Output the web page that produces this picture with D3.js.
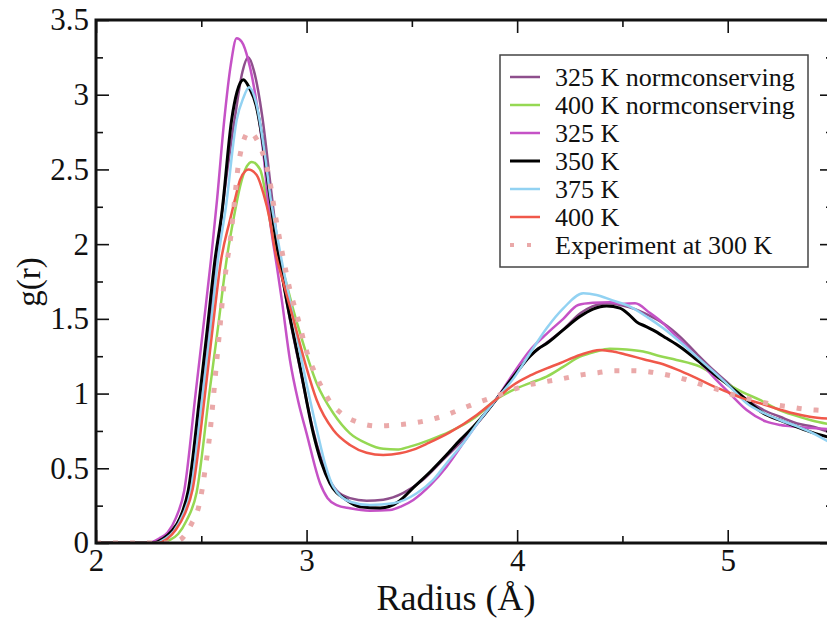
<!DOCTYPE html>
<html><head><meta charset="utf-8">
<script src="https://cdn.jsdelivr.net/npm/d3@7"></script>
<style>body{margin:0;background:#fff}svg{display:block}</style>
</head><body>
<svg id="c" width="827" height="620"></svg>
<script>
// ---- data ----
const xTicks = [2, 3, 4, 5];
const xMinorTicks = [2.5, 3.5, 4.5, 5.5];
const yTicks = [0, 0.5, 1, 1.5, 2, 2.5, 3, 3.5];
const yMinorTicks = [0.25, 0.75, 1.25, 1.75, 2.25, 2.75, 3.25];
const seriesNames = ["325 K normconserving", "400 K normconserving", "325 K", "350 K", "375 K", "400 K", "Experiment at 300 K"];
const seriesColors = ["#8e4f8c", "#95d853", "#c552c6", "#000000", "#92d2f2", "#f0584a", "#eaa9a9"];

const nc325 = [[2.0,0],[2.28,0],[2.33,0.03],[2.37,0.08],[2.40,0.17],[2.445,0.36],[2.50,1.0],[2.572,1.894],[2.61,2.35],[2.66,2.85],[2.695,3.15],[2.723,3.25],[2.75,3.16],[2.79,2.85],[2.83,2.38],[2.87,1.92],[2.91,1.58],[2.97,1.16],[3.03,0.76],[3.10,0.45],[3.143,0.35],[3.206,0.30],[3.285,0.283],[3.364,0.29],[3.46,0.335],[3.55,0.42],[3.65,0.56],[3.75,0.70],[3.84,0.85],[3.90,0.96],[3.98,1.11],[4.06,1.25],[4.14,1.34],[4.22,1.43],[4.30,1.537],[4.36,1.585],[4.425,1.604],[4.50,1.59],[4.56,1.565],[4.63,1.52],[4.694,1.47],[4.773,1.381],[4.85,1.27],[4.931,1.158],[5.01,1.06],[5.09,0.96],[5.17,0.89],[5.248,0.845],[5.33,0.80],[5.406,0.778],[5.50,0.73]];
const nc400 = [[2.0,0],[2.30,0],[2.35,0.02],[2.39,0.06],[2.43,0.15],[2.478,0.34],[2.538,1.0],[2.58,1.45],[2.62,1.894],[2.66,2.22],[2.684,2.385],[2.716,2.52],[2.74,2.55],[2.779,2.50],[2.81,2.30],[2.834,2.09],[2.86,1.97],[2.90,1.76],[2.937,1.56],[2.969,1.404],[3.048,1.069],[3.127,0.868],[3.206,0.734],[3.285,0.667],[3.364,0.63],[3.43,0.625],[3.49,0.645],[3.586,0.69],[3.68,0.745],[3.80,0.84],[3.90,0.96],[3.982,1.024],[4.06,1.07],[4.14,1.113],[4.22,1.18],[4.298,1.247],[4.37,1.28],[4.44,1.30],[4.52,1.295],[4.599,1.281],[4.68,1.25],[4.757,1.225],[4.868,1.18],[4.994,1.069],[5.07,1.01],[5.153,0.957],[5.23,0.90],[5.311,0.857],[5.40,0.82],[5.50,0.79]];
const k325 = [[2.0,0],[2.25,0],[2.30,0.03],[2.34,0.07],[2.38,0.17],[2.419,0.35],[2.473,1.0],[2.51,1.45],[2.546,1.894],[2.575,2.30],[2.609,2.83],[2.64,3.2],[2.668,3.378],[2.692,3.355],[2.723,3.233],[2.763,2.943],[2.795,2.608],[2.826,2.162],[2.858,1.86],[2.882,1.63],[2.921,1.225],[2.96,0.95],[3.0,0.734],[3.064,0.40],[3.10,0.30],[3.143,0.254],[3.206,0.232],[3.301,0.216],[3.396,0.221],[3.45,0.245],[3.507,0.288],[3.59,0.39],[3.665,0.511],[3.75,0.68],[3.823,0.823],[3.90,0.96],[3.982,1.135],[4.061,1.29],[4.14,1.40],[4.219,1.50],[4.29,1.593],[4.36,1.607],[4.44,1.611],[4.50,1.60],[4.56,1.604],[4.63,1.54],[4.694,1.47],[4.75,1.39],[4.805,1.314],[4.87,1.21],[4.931,1.113],[5.01,1.0],[5.09,0.89],[5.184,0.812],[5.25,0.79],[5.327,0.778],[5.40,0.77],[5.50,0.76]];
const k350 = [[2.0,0],[2.27,0],[2.32,0.03],[2.36,0.08],[2.40,0.17],[2.438,0.35],[2.494,1.0],[2.53,1.45],[2.565,1.894],[2.597,2.20],[2.644,2.83],[2.67,3.02],[2.70,3.10],[2.73,3.04],[2.76,2.93],[2.79,2.70],[2.82,2.38],[2.855,2.02],[2.88,1.82],[2.905,1.627],[2.969,1.18],[3.032,0.734],[3.07,0.54],[3.111,0.40],[3.19,0.288],[3.253,0.243],[3.35,0.235],[3.44,0.28],[3.507,0.37],[3.59,0.48],[3.665,0.59],[3.73,0.69],[3.792,0.778],[3.85,0.87],[3.90,0.96],[3.982,1.113],[4.061,1.25],[4.10,1.30],[4.14,1.335],[4.219,1.426],[4.298,1.515],[4.36,1.565],[4.425,1.586],[4.488,1.572],[4.53,1.53],[4.567,1.48],[4.61,1.45],[4.646,1.425],[4.71,1.37],[4.773,1.314],[4.85,1.23],[4.931,1.136],[5.01,1.05],[5.09,0.957],[5.169,0.868],[5.25,0.82],[5.327,0.778],[5.40,0.74],[5.50,0.70]];
const k375 = [[2.0,0],[2.28,0],[2.33,0.03],[2.37,0.08],[2.41,0.18],[2.45,0.35],[2.507,1.0],[2.545,1.45],[2.579,1.894],[2.617,2.25],[2.668,2.83],[2.70,2.98],[2.727,3.05],[2.76,2.95],[2.80,2.62],[2.83,2.30],[2.861,2.05],[2.89,1.83],[2.92,1.627],[2.98,1.20],[3.05,0.75],[3.09,0.52],[3.127,0.377],[3.206,0.276],[3.301,0.254],[3.412,0.266],[3.523,0.333],[3.60,0.42],[3.665,0.534],[3.75,0.68],[3.823,0.823],[3.90,0.96],[3.982,1.10],[4.061,1.27],[4.14,1.437],[4.219,1.57],[4.314,1.671],[4.377,1.66],[4.45,1.625],[4.536,1.582],[4.62,1.51],[4.694,1.437],[4.77,1.35],[4.852,1.247],[4.93,1.15],[5.01,1.046],[5.09,0.935],[5.17,0.87],[5.248,0.823],[5.33,0.78],[5.406,0.734],[5.50,0.66]];
const k400 = [[2.0,0],[2.29,0],[2.34,0.03],[2.38,0.09],[2.42,0.19],[2.459,0.36],[2.518,1.0],[2.555,1.45],[2.594,1.894],[2.636,2.16],[2.66,2.30],[2.684,2.43],[2.71,2.49],[2.723,2.50],[2.763,2.463],[2.795,2.34],[2.826,2.16],[2.85,1.96],[2.89,1.74],[2.937,1.50],[2.969,1.33],[3.0,1.17],[3.048,0.957],[3.127,0.756],[3.206,0.656],[3.285,0.604],[3.364,0.589],[3.443,0.60],[3.507,0.625],[3.58,0.67],[3.68,0.74],[3.808,0.857],[3.90,0.96],[3.982,1.058],[4.06,1.12],[4.14,1.169],[4.203,1.203],[4.298,1.258],[4.393,1.292],[4.46,1.28],[4.52,1.26],[4.60,1.23],[4.678,1.203],[4.76,1.16],[4.836,1.113],[4.915,1.06],[4.994,1.013],[5.07,0.97],[5.153,0.935],[5.23,0.90],[5.311,0.868],[5.39,0.845],[5.50,0.83]];
const exp300 = [[2.0,0],[2.34,0],[2.38,0.01],[2.415,0.04],[2.454,0.13],[2.489,0.25],[2.505,0.366],[2.518,0.49],[2.541,0.734],[2.557,0.968],[2.573,1.213],[2.589,1.448],[2.605,1.693],[2.62,1.86],[2.64,2.05],[2.655,2.25],[2.676,2.53],[2.692,2.646],[2.727,2.753],[2.774,2.67],[2.802,2.563],[2.823,2.44],[2.85,2.207],[2.882,1.961],[2.92,1.70],[2.961,1.493],[3.003,1.27],[3.035,1.153],[3.072,1.042],[3.111,0.946],[3.175,0.857],[3.25,0.805],[3.333,0.783],[3.415,0.788],[3.499,0.801],[3.581,0.823],[3.66,0.855],[3.74,0.90],[3.82,0.944],[3.899,0.982],[3.975,1.024],[4.054,1.058],[4.137,1.08],[4.216,1.10],[4.30,1.124],[4.385,1.14],[4.464,1.153],[4.548,1.153],[4.63,1.145],[4.714,1.124],[4.797,1.096],[4.88,1.058],[4.96,1.024],[5.042,0.984],[5.121,0.957],[5.204,0.93],[5.287,0.912],[5.37,0.895],[5.454,0.886],[5.50,0.88]];
const seriesData = [nc325, nc400, k325, k350, k375, k400, exp300];

// ---- layout ----
const L = 96, T = 20, B = 543, R = 833;
const svg = d3.select("#c");
const x = d3.scaleLinear().domain([2, 5.5]).range([L, R]);
const y = d3.scaleLinear().domain([0, 3.5]).range([B, T]);
const font = "Liberation Serif";

svg.append("defs").append("clipPath").attr("id", "clip")
  .append("rect").attr("x", L).attr("y", T).attr("width", R - L).attr("height", B - T);

const line = d3.line().x(d => x(d[0])).y(d => y(d[1])).curve(d3.curveMonotoneX);
const plot = svg.append("g").attr("clip-path", "url(#clip)");
seriesData.forEach((s, i) => {
  const isExp = i === 6;
  plot.append("path").datum(s).attr("d", line)
    .attr("fill", "none")
    .attr("stroke", seriesColors[i])
    .attr("stroke-width", isExp ? 5 : (i === 3 ? 3 : 2.5))
    .attr("stroke-dasharray", isExp ? "5,12" : null)
    .attr("stroke-linejoin", "round");
});

// axes
function styleAxis(g) {
  g.select(".domain").remove();
  g.selectAll("line").attr("stroke", "#111").attr("stroke-width", 1.6);
  g.selectAll("text").style("font-family", font).style("font-size", "31px").attr("fill", "#111");
}
svg.append("g").attr("transform", `translate(0,${B})`)
  .call(d3.axisBottom(x).tickValues(xTicks).tickSize(-13).tickPadding(6).tickFormat(d3.format("d"))).call(styleAxis);
svg.append("g").attr("transform", `translate(0,${B})`)
  .call(d3.axisBottom(x).tickValues(xMinorTicks).tickSize(-7).tickFormat("")).call(styleAxis);
svg.append("g").attr("transform", `translate(0,${T})`)
  .call(d3.axisTop(x).tickValues(xTicks).tickSize(-13).tickFormat("")).call(styleAxis);
svg.append("g").attr("transform", `translate(0,${T})`)
  .call(d3.axisTop(x).tickValues(xMinorTicks).tickSize(-7).tickFormat("")).call(styleAxis);
svg.append("g").attr("transform", `translate(${L},0)`)
  .call(d3.axisLeft(y).tickValues(yTicks).tickSize(-13).tickPadding(7).tickFormat(d => d3.format("")(d))).call(styleAxis);
svg.append("g").attr("transform", `translate(${L},0)`)
  .call(d3.axisLeft(y).tickValues(yMinorTicks).tickSize(-7).tickFormat("")).call(styleAxis);
svg.append("g").attr("transform", `translate(${R},0)`)
  .call(d3.axisRight(y).tickValues(yTicks).tickSize(-13).tickFormat("")).call(styleAxis);
svg.append("g").attr("transform", `translate(${R},0)`)
  .call(d3.axisRight(y).tickValues(yMinorTicks).tickSize(-7).tickFormat("")).call(styleAxis);

// frame
svg.append("rect").attr("x", L).attr("y", T).attr("width", R - L).attr("height", B - T)
  .attr("fill", "none").attr("stroke", "#111").attr("stroke-width", 3);

// axis titles
svg.append("text").attr("x", 456).attr("y", 610).attr("text-anchor", "middle")
  .style("font-family", font).style("font-size", "36px").attr("fill", "#111").text("Radius (Å)");
svg.append("text").attr("transform", "translate(40,282) rotate(-90)").attr("text-anchor", "middle")
  .style("font-family", font).style("font-size", "33px").attr("fill", "#111").text("g(r)");

// legend
const lg = svg.append("g");
lg.append("rect").attr("x", 500).attr("y", 55).attr("width", 308).attr("height", 212)
  .attr("fill", "#fff").attr("stroke", "#444").attr("stroke-width", 1.5);
const rowY = [77, 105, 133, 161, 189, 217, 245];
seriesNames.forEach((n, i) => {
  const isExp = i === 6;
  lg.append("line").attr("x1", 510).attr("x2", 540).attr("y1", rowY[i]).attr("y2", rowY[i])
    .attr("stroke", seriesColors[i]).attr("stroke-width", isExp ? 4 : (i === 3 ? 3 : 2.5))
    .attr("stroke-dasharray", isExp ? "4,13" : null);
  lg.append("text").attr("x", 555).attr("y", rowY[i]).attr("dy", "0.35em")
    .style("font-family", font).style("font-size", "26px").attr("fill", "#111").text(n);
});
</script>
</body></html>
